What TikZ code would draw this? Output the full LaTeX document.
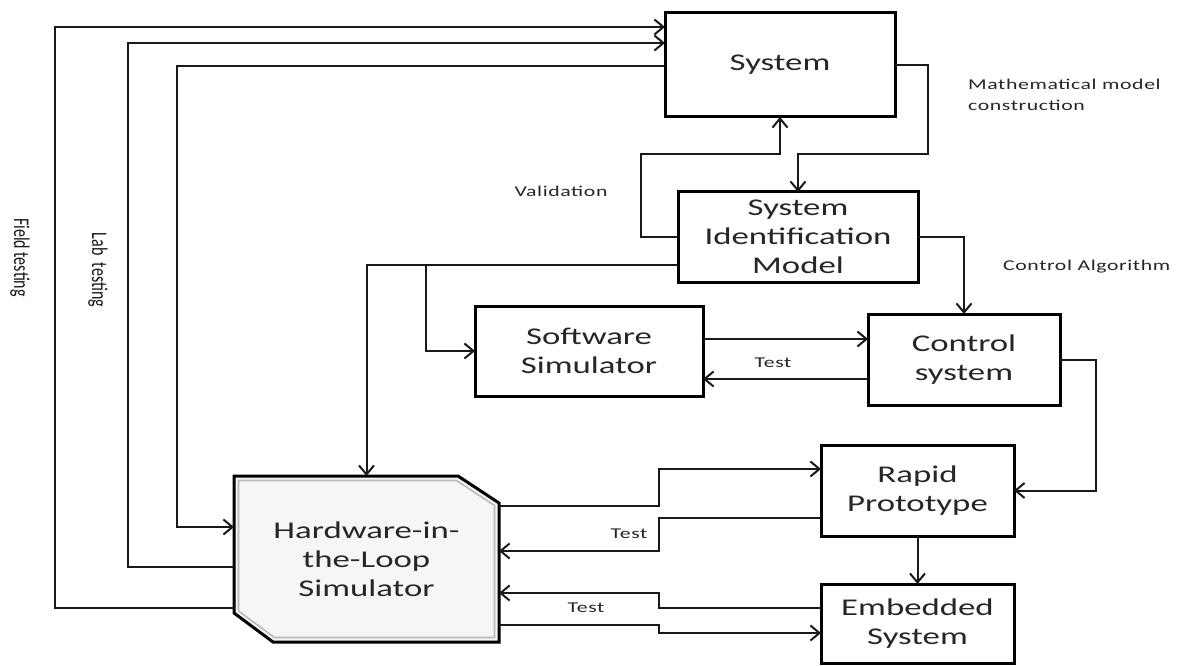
\documentclass[tikz,border=0pt]{standalone}
\usepackage{fontspec}
\setmainfont{Carlito}
\newfontfamily\boxfont[FakeStretch=1.45]{Carlito}
\newfontfamily\lblfont[FakeStretch=1.45,LetterSpace=4]{Carlito}
\newfontfamily\rotfont{Carlito}
\usetikzlibrary{arrows.meta,backgrounds}
\begin{document}
\begin{tikzpicture}[x=1pt,y=-1pt,line join=miter,
  box/.style={draw=black, line width=3pt, fill=white, text=black!85,
    font=\boxfont\fontsize{24}{29}\selectfont, align=center, inner sep=0pt, outer sep=0pt},
  conn/.style={line width=2pt, draw=black!90},
  arr/.style={conn, -{Straight Barb[length=9pt,width=15pt]}},
  lbl/.style={font=\lblfont\fontsize{15}{21}\selectfont, text=black!85, inner sep=0pt},
  rlbl/.style={font=\rotfont\fontsize{16}{19}\selectfont, text=black!90, inner sep=0pt,
    transform shape, rotate=-90, yscale=1.4}]
\useasboundingbox (0,0) rectangle (1179,666);

% boxes
\node[box, minimum width=230pt, minimum height=104pt] (sys) at (780,65) {System};
\node[box, minimum width=240pt, minimum height=90pt] (sid) at (798,237) {System\\Identification\\Model};
\node[box, minimum width=228pt, minimum height=90pt] (sw) at (589,351) {Software\\Simulator};
\node[box, minimum width=192pt, minimum height=91pt] (ctl) at (964,359.5) {Control\\system};
\node[box, minimum width=193pt, minimum height=91pt] (rp) at (917.5,490.5) {Rapid\\Prototype};
\node[box, minimum width=193pt, minimum height=79pt] (emb) at (917.5,623.5) {Embedded\\System};
\node[inner sep=0pt, outer sep=0pt, minimum width=265pt, minimum height=166pt, align=center,
  text=black!85, font=\boxfont\fontsize{24}{29}\selectfont] (hil) at (366.5,559) {Hardware-in-\\the-Loop\\Simulator};
\begin{pgfonlayer}{background}
  \draw[line width=3pt, fill=gray!7] (hil.north west) -- ([xshift=-41pt]hil.north east)
    -- ([yshift=-27pt]hil.north east) -- (hil.south east) -- ([xshift=39pt]hil.south west)
    -- ([yshift=29pt]hil.south west) -- cycle;
  \draw[line width=1.6pt, gray!55] (238.5,480.5) -- (456.5,480.5) -- (494.5,505.5)
    -- (494.5,637.5) -- (274.5,637.5) -- (238.5,611) -- cycle;
\end{pgfonlayer}

% long feedback loops
\draw[arr] (hil.west |- 0,608) -- (55,608) -- (55,27) -- (sys.west |- 0,27);
\draw[arr] (hil.west |- 0,567) -- (128,567) -- (128,43) -- (sys.west |- 0,43);
\draw[arr] (sys.west |- 0,66) -- (177,66) -- (177,527) -- (hil.west |- 0,527);

% system <-> identification
\draw[arr] (sys.east) -- (928,65) |- (sid.north |- 0,154) -- (sid.north);
\draw[arr] (sid.west) -- (641,237) |- (sys.south |- 0,154) -- (sys.south);
\draw[arr] (sid.east) -| (ctl.north);
\coordinate (br) at (426,265);
\draw[arr] (sid.west |- 0,265) -| (hil.north);
\draw[arr] (br) |- (sw.west);

% software <-> control
\draw[arr] (sw.east |- 0,339) -- (ctl.west |- 0,339);
\draw[arr] (ctl.west |- 0,379) -- (sw.east |- 0,379);
\draw[arr] (ctl.east) -- (1096,359.5) |- (rp.east);

% HIL <-> rapid / embedded
\draw[arr] (hil.east |- 0,506) -- (659,506) -- (659,469) -- (rp.west |- 0,469);
\draw[arr] (rp.west |- 0,518) -- (659,518) -- (659,551) -- (hil.east |- 0,551);
\draw[arr] (rp.south) -- (emb.north);
\draw[arr] (emb.west |- 0,608) -- (659,608) -- (659,593) -- (hil.east |- 0,593);
\draw[arr] (hil.east |- 0,625) -- (659,625) -- (659,633) -- (emb.west |- 0,633);

% labels
\node[lbl, anchor=west, align=left] (lmath) at (968,95) {Mathematical model\\construction};
\node[lbl, anchor=west] (lctl) at (1003,267) {Control Algorithm};
\node[lbl] (lval) at (561,191) {Validation};
\node[lbl] (lt1) at (773,363) {Test};
\node[lbl] (lt2) at (629,534) {Test};
\node[lbl] (lt3) at (586,608) {Test};
\node[rlbl] (lfield) at (20,257.5) {Field testing};
\node[rlbl] (llab) at (98,270) {Lab\ \ testing};
\end{tikzpicture}
\end{document}
